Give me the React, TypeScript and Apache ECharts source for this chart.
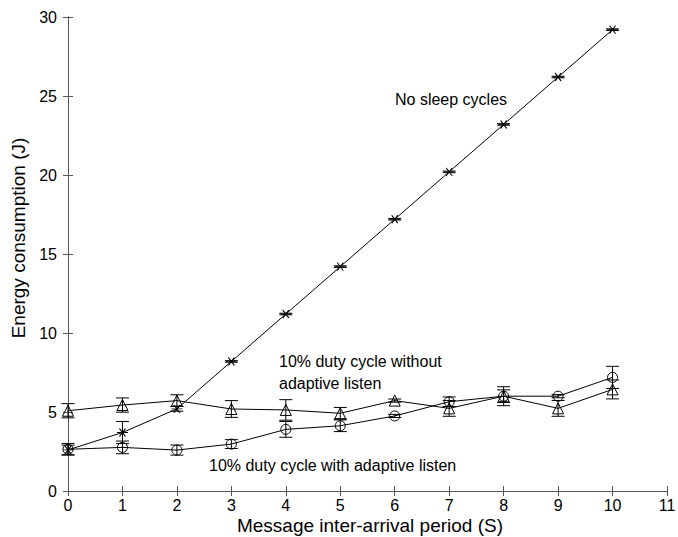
import React, { useEffect, useRef } from "react";
import * as echarts from "echarts";

const xValues = [0, 1, 2, 3, 4, 5, 6, 7, 8, 9, 10];
const noSleep = [2.6, 3.7, 5.2, 8.2, 11.2, 14.2, 17.2, 20.2, 23.2, 26.2, 29.2];
const noSleepErr = [0.3, 0.7, 0.15, 0.05, 0.05, 0.05, 0.05, 0.05, 0.05, 0.05, 0.05];
const withoutAdaptive = [5.08, 5.44, 5.72, 5.19, 5.13, 4.92, 5.72, 5.23, 6.0, 5.23, 6.43];
const withoutAdaptiveErr = [0.45, 0.45, 0.37, 0.53, 0.65, 0.37, 0.1, 0.5, 0.6, 0.5, 0.6];
const withAdaptive = [2.64, 2.76, 2.59, 2.97, 3.9, 4.13, 4.75, 5.65, 6.0, 6.0, 7.19];
const withAdaptiveErr = [0.37, 0.4, 0.32, 0.28, 0.5, 0.37, 0.1, 0.3, 0.4, 0.1, 0.7];

const xTitle = "Message inter-arrival period (S)";
const yTitle = "Energy consumption (J)";
const annotations = [
  { text: "No sleep cycles", left: 395, top: 91 },
  { text: "10% duty cycle without", left: 279, top: 353 },
  { text: "adaptive listen", left: 279, top: 375 },
  { text: "10% duty cycle with adaptive listen", left: 209, top: 457 },
];

const FONT = "'Liberation Sans', Arial, sans-serif";
const starPath = "path://M-1,0L1,0M-0.55,-0.85L0.55,0.85M-0.55,0.85L0.55,-0.85";

function pts(vals: number[]) {
  return xValues.map((x, i) => [x, vals[i]]);
}
function errs(vals: number[], e: number[]) {
  return xValues.map((x, i) => [x, vals[i] - e[i], vals[i] + e[i]]);
}

function errorSeries(data: number[][]) {
  return {
    type: "custom",
    data,
    encode: { x: 0, y: [1, 2] },
    z: 3,
    renderItem: (params: any, api: any) => {
      const x = api.value(0);
      const lo = api.value(1);
      const hi = api.value(2);
      const p1 = api.coord([x, hi]);
      const p2 = api.coord([x, lo]);
      const w = 6.5;
      const style = { stroke: "#000", lineWidth: 1 };
      return {
        type: "group",
        children: [
          { type: "line", shape: { x1: p1[0], y1: p1[1], x2: p2[0], y2: p2[1] }, style },
          { type: "line", shape: { x1: p1[0] - w, y1: p1[1], x2: p1[0] + w, y2: p1[1] }, style },
          { type: "line", shape: { x1: p2[0] - w, y1: p2[1], x2: p2[0] + w, y2: p2[1] }, style },
        ],
      };
    },
  };
}

export default function App() {
  const ref = useRef<HTMLDivElement>(null);
  useEffect(() => {
    document.body.style.margin = "0";
    const chart = echarts.init(ref.current!, null, { renderer: "svg" });
    const axisLine = { show: true, lineStyle: { color: "#555", width: 1 } };
    const axisTick = { show: true, inside: true, length: 5, lineStyle: { color: "#555" } };
    const lineBase = {
      type: "line",
      lineStyle: { color: "#000", width: 1 },
      itemStyle: { color: "transparent", borderColor: "#000", borderWidth: 1 },
      z: 4,
    };
    chart.setOption({
      animation: false,
      backgroundColor: "#fff",
      grid: { left: 68, right: 11, top: 17, bottom: 46, containLabel: false, outerBoundsMode: "none" },
      xAxis: [
        {
          type: "value",
          min: 0,
          max: 11,
          interval: 1,
          position: "bottom",
          axisLine,
          axisTick,
          splitLine: { show: false },
          axisLabel: { color: "#000", fontSize: 16, fontFamily: FONT, margin: 6 },
        },
        {
          type: "value",
          min: 0,
          max: 11,
          interval: 1,
          position: "top",
          axisLine,
          axisTick,
          splitLine: { show: false },
          axisLabel: { show: false },
        },
      ],
      yAxis: [
        {
          type: "value",
          min: 0,
          max: 30,
          interval: 5,
          position: "left",
          axisLine,
          axisTick,
          splitLine: { show: false },
          axisLabel: { color: "#000", fontSize: 16, fontFamily: FONT, margin: 11 },
        },
        {
          type: "value",
          min: 0,
          max: 30,
          interval: 5,
          position: "right",
          axisLine,
          axisTick,
          splitLine: { show: false },
          axisLabel: { show: false },
        },
      ],
      graphic: [
        {
          type: "text",
          x: 18,
          y: 238,
          rotation: Math.PI / 2,
          style: {
            text: yTitle,
            fill: "#000",
            fontSize: 19,
            fontFamily: FONT,
            align: "center",
            verticalAlign: "middle",
          },
        },
        {
          type: "text",
          x: 370,
          y: 525,
          style: {
            text: xTitle,
            fill: "#000",
            fontSize: 19,
            fontFamily: FONT,
            align: "center",
            verticalAlign: "middle",
          },
        },
        ...annotations.map((a) => ({
          type: "text",
          left: a.left,
          top: a.top,
          style: { text: a.text, fill: "#000", fontSize: 16, fontFamily: FONT },
        })),
      ],
      series: [
        { ...lineBase, name: "No sleep cycles", data: pts(noSleep), symbol: starPath, symbolSize: [11, 8] },
        { ...lineBase, name: "Without adaptive listen", data: pts(withoutAdaptive), symbol: "triangle", symbolSize: 11 },
        { ...lineBase, name: "With adaptive listen", data: pts(withAdaptive), symbol: "circle", symbolSize: 10 },
        errorSeries(errs(noSleep, noSleepErr)),
        errorSeries(errs(withoutAdaptive, withoutAdaptiveErr)),
        errorSeries(errs(withAdaptive, withAdaptiveErr)),
      ],
    });
    return () => chart.dispose();
  }, []);
  return <div ref={ref} style={{ width: 678, height: 537 }} />;
}
